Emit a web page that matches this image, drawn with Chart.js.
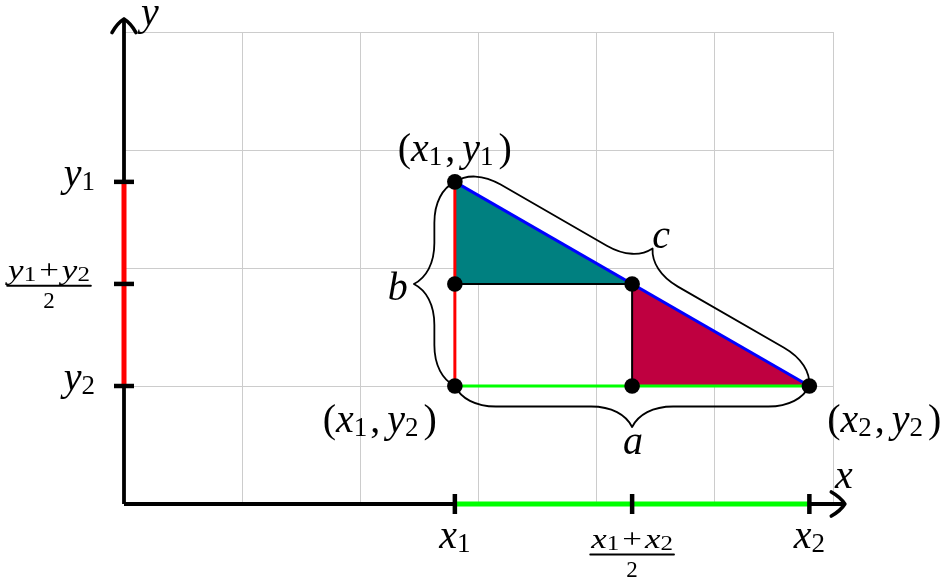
<!DOCTYPE html>
<html><head><meta charset="utf-8">
<script src="https://cdn.jsdelivr.net/npm/chart.js@4.4.1/dist/chart.umd.min.js"></script>
<style>html,body{margin:0;padding:0;background:#fff;}#wrap{width:950px;height:583px;position:relative;}</style>
</head><body><div id="wrap"><canvas id="c"></canvas></div>
<script>
// ---- data ----
const gridX = [0, 6];               // grid range on x
const gridY = [0, 4];               // grid range on y
const axisTips = [6.1, 4.11];       // arrow tips of x and y axes
const xPoints = [2.8, 4.3, 5.8];    // x1, (x1+x2)/2, x2
const yPoints = [2.73, 1.865, 1.0]; // y1, (y1+y2)/2, y2

// labels (math pieces: [style, text] or a number = extra gap in px)
const xTickLabels = [
  [['i','x'],['s','1']],
  null, // fraction
  [['i','x'],['s','2']]
];
const yTickLabels = [
  [['i','y'],['s','1']],
  null,
  [['i','y'],['s','2']]
];
const xFracNum = [['fi','x'],['fs','1'],3,['fr','+'],3,['fi','x'],['fs','2']];
const yFracNum = [['fi','y'],['fs','1'],3,['fr','+'],3,['fi','y'],['fs','2']];
const fracDen = [['fd','2']];
const pointLabels = [
  [['r','('],['i','x'],['s','1'],3,['r',','],7,['i','y'],['s','1'],5,['r',')']],
  [['r','('],['i','x'],['s','1'],3,['r',','],7,['i','y'],['s','2'],5,['r',')']],
  [['r','('],['i','x'],['s','2'],3,['r',','],7,['i','y'],['s','2'],5,['r',')']]
];
const sideLabels = ['a', 'b', 'c'];
const axisLabels = ['x', 'y'];

const [X1, XM, X2] = xPoints;
const [Y1, YM, Y2] = yPoints;

const F = '"Liberation Serif","DejaVu Serif",serif';
function fontOf(k){
  switch(k){
    case 'i': return {f:`italic 40px ${F}`, dy:0};
    case 'r': return {f:`40px ${F}`, dy:0};
    case 's': return {f:`27px ${F}`, dy:4};
    case 'fi': return {f:`italic 28px ${F}`, dy:0};
    case 'fr': return {f:`28px ${F}`, dy:0};
    case 'fs': return {f:`20px ${F}`, dy:2};
    case 'fd': return {f:`23px ${F}`, dy:0};
  }
}
function measure(ctx, parts, sx){
  let w=0; const items=[];
  for(const p of parts){
    if(typeof p==='number'){items.push({gap:p}); w+=p; continue;}
    const fo=fontOf(p[0]); ctx.font=fo.f;
    const tw=ctx.measureText(p[1]).width*sx;
    items.push({t:p[1],f:fo.f,dy:fo.dy,w:tw}); w+=tw;
  }
  return {w,items};
}
function mathText(ctx, parts, x, y, align, sx){
  sx = sx||1;
  const m=measure(ctx,parts,sx);
  let cx = align==='center'? x-m.w/2 : align==='right'? x-m.w : x;
  ctx.textBaseline='alphabetic'; ctx.textAlign='left'; ctx.fillStyle='#000';
  for(const it of m.items){
    if(it.gap!==undefined){cx+=it.gap;continue;}
    ctx.save(); ctx.font=it.f; ctx.translate(cx, y+it.dy); ctx.scale(sx,1);
    ctx.fillText(it.t,0,0); ctx.restore();
    cx+=it.w;
  }
  return m.w;
}
function frac(ctx, num, den, cx, numBase, barY, denBase, sx){
  const w = mathText(ctx, num, cx, numBase, 'center', sx);
  ctx.beginPath(); ctx.moveTo(cx-w/2-1, barY); ctx.lineTo(cx+w/2+1, barY);
  ctx.lineWidth=1.8; ctx.strokeStyle='#000'; ctx.stroke();
  mathText(ctx, den, cx, denBase, 'center', 1);
}
function brace(ctx, P, Q, ref, a){
  const dx=Q[0]-P[0], dy=Q[1]-P[1], L=Math.hypot(dx,dy);
  const u=[dx/L,dy/L]; let n=[-u[1],u[0]];
  if(n[0]*ref[0]+n[1]*ref[1]<0) n=[-n[0],-n[1]];
  const T=(s,t)=>[P[0]+u[0]*s+n[0]*t, P[1]+u[1]*s+n[1]*t];
  const h=L/2;
  ctx.beginPath();
  let p=T(0,0); ctx.moveTo(p[0],p[1]);
  const bz=(a1,a2,a3)=>{const c1=T(...a1),c2=T(...a2),e=T(...a3);ctx.bezierCurveTo(c1[0],c1[1],c2[0],c2[1],e[0],e[1]);};
  const ln=(s,t)=>{const q=T(s,t);ctx.lineTo(q[0],q[1]);};
  bz([0.15*a,0.3*a],[0.5*a,0.5*a],[a,0.5*a]);
  ln(h-a,0.5*a);
  bz([h-0.5*a,0.5*a],[h-0.15*a,0.7*a],[h,a]);
  bz([h+0.15*a,0.7*a],[h+0.5*a,0.5*a],[h+a,0.5*a]);
  ln(L-a,0.5*a);
  bz([L-0.5*a,0.5*a],[L-0.15*a,0.3*a],[L,0]);
  ctx.lineWidth=1.8; ctx.strokeStyle='#000'; ctx.lineCap='round'; ctx.lineJoin='round'; ctx.stroke();
  return T(h,a);
}
function arrowHead(ctx, tip, dir){
  const back=13.5, side=12, nx=-dir[1], ny=dir[0];
  ctx.beginPath();
  for(const s of [1,-1]){
    const ex=tip[0]-dir[0]*back+nx*side*s, ey=tip[1]-dir[1]*back+ny*side*s;
    const cx=tip[0]-dir[0]*back*0.3+nx*side*0.55*s, cy=tip[1]-dir[1]*back*0.3+ny*side*0.55*s;
    ctx.moveTo(ex,ey); ctx.quadraticCurveTo(cx,cy,tip[0],tip[1]);
  }
  ctx.lineWidth=3.6; ctx.strokeStyle='#000'; ctx.lineCap='round'; ctx.lineJoin='round'; ctx.stroke();
}

const pt=(x,y)=>({x,y});
function lineDs(data, color, width, order, extra){
  return Object.assign({data, showLine:true, borderColor:color, borderWidth:width, pointRadius:0,
    fill:false, order, clip:false, borderCapStyle:'butt', tension:0}, extra||{});
}
const datasets = [
  lineDs([pt(0,0),pt(0,axisTips[1])], '#000', 3.8, 20),
  lineDs([pt(0,0),pt(axisTips[0],0)], '#000', 3.8, 20),
  lineDs([pt(0,Y2),pt(0,Y1)], '#ff0000', 5, 19),
  lineDs([pt(X1,0),pt(X2,0)], '#00ff00', 5, 19),
  {data:xPoints.map(v=>pt(v,0)), showLine:false, pointStyle:'line', rotation:90, pointRadius:10,
   borderColor:'#000', borderWidth:4.5, order:18, clip:false},
  {data:yPoints.map(v=>pt(0,v)), showLine:false, pointStyle:'line', rotation:0, pointRadius:10,
   borderColor:'#000', borderWidth:4.5, order:18, clip:false},
  lineDs([pt(X1,Y1),pt(X1,YM),pt(XM,YM),pt(X1,Y1)], 'rgba(0,0,0,0)', 0, 15, {fill:'shape', backgroundColor:'#008080'}),
  lineDs([pt(XM,YM),pt(XM,Y2),pt(X2,Y2),pt(XM,YM)], 'rgba(0,0,0,0)', 0, 15, {fill:'shape', backgroundColor:'#bf0040'}),
  lineDs([pt(X1,Y2),pt(X1,Y1)], '#ff0000', 3, 12),
  lineDs([pt(X1,Y2),pt(X2,Y2)], '#00ff00', 3, 12),
  lineDs([pt(X1,Y1),pt(X2,Y2)], '#0000ff', 3, 11),
  lineDs([pt(X1,YM),pt(XM,YM),pt(XM,Y2)], '#000', 2, 10),
  {data:[pt(X1,Y1),pt(X1,YM),pt(X1,Y2),pt(XM,YM),pt(XM,Y2),pt(X2,Y2)], showLine:false,
   pointRadius:7.8, backgroundColor:'#000', borderWidth:0, order:1, clip:false}
];

const deco = {
  id:'deco',
  beforeDatasetsDraw(chart){
    const ctx=chart.ctx, xs=chart.scales.x, ys=chart.scales.y;
    const P=(x,y)=>[xs.getPixelForValue(x), ys.getPixelForValue(y)];
    ctx.save();
    brace(ctx, P(X1,Y2), P(X2,Y2), [0,1], 41);
    brace(ctx, P(X1,Y1), P(X1,Y2), [-1,0], 41);
    brace(ctx, P(X1,Y1), P(X2,Y2), [1,-1], 41);
    ctx.restore();
  },
  afterDatasetsDraw(chart){
    const ctx=chart.ctx, xs=chart.scales.x, ys=chart.scales.y;
    const P=(x,y)=>[xs.getPixelForValue(x), ys.getPixelForValue(y)];
    ctx.save();
    arrowHead(ctx, P(axisTips[0],0), [1,0]);
    arrowHead(ctx, P(0,axisTips[1]), [0,-1]);
    let q=P(axisTips[0],0); mathText(ctx, [['i',axisLabels[0]]], q[0]-1, q[1]-16, 'center');
    q=P(0,axisTips[1]); mathText(ctx, [['i',axisLabels[1]]], q[0]+26, q[1]+6, 'center');
    xPoints.forEach((v,i)=>{
      const p=P(v,0);
      if(xTickLabels[i]) mathText(ctx, xTickLabels[i], p[0], p[1]+44, 'center');
      else frac(ctx, xFracNum, fracDen, p[0], p[1]+44, p[1]+50.5, p[1]+72.5, 1.25);
    });
    yPoints.forEach((v,i)=>{
      const p=P(0,v);
      if(yTickLabels[i]) mathText(ctx, yTickLabels[i], p[0]-29, p[1]+4, 'right');
      else frac(ctx, yFracNum, fracDen, p[0]-75, p[1]-4.5, p[1]+1.8, p[1]+24.5, 1.25);
    });
    q=P(X1,Y1); mathText(ctx, pointLabels[0], q[0], q[1]-21, 'center');
    q=P(X1,Y2); mathText(ctx, pointLabels[1], q[0]-75, q[1]+46, 'center');
    q=P(X2,Y2); mathText(ctx, pointLabels[2], q[0]+75, q[1]+46, 'center');
    q=P(XM,Y2); mathText(ctx, [['i',sideLabels[0]]], q[0]+1, q[1]+68, 'center');
    q=P(X1,YM); mathText(ctx, [['i',sideLabels[1]]], q[0]-57, q[1]+16, 'center');
    const m1=P(X1,Y1), m2=P(X2,Y2);
    mathText(ctx, [['i',sideLabels[2]]], (m1[0]+m2[0])/2+29, (m1[1]+m2[1])/2-36, 'center');
    ctx.restore();
  }
};

new Chart(document.getElementById('c'), {
  type:'scatter',
  data:{datasets},
  options:{
    responsive:true, maintainAspectRatio:false, animation:false, events:[],
    layout:{padding:{left:124, right:117, top:32, bottom:79}},
    plugins:{legend:{display:false}, tooltip:{enabled:false}},
    scales:{
      x:{type:'linear', min:gridX[0], max:gridX[1],
         ticks:{stepSize:1, display:false}, grid:{color:'#cccccc', lineWidth:1, drawTicks:false},
         border:{display:false}},
      y:{type:'linear', min:gridY[0], max:gridY[1],
         ticks:{stepSize:1, display:false}, grid:{color:'#cccccc', lineWidth:1, drawTicks:false},
         border:{display:false}}
    }
  },
  plugins:[deco]
});
</script></body></html>
